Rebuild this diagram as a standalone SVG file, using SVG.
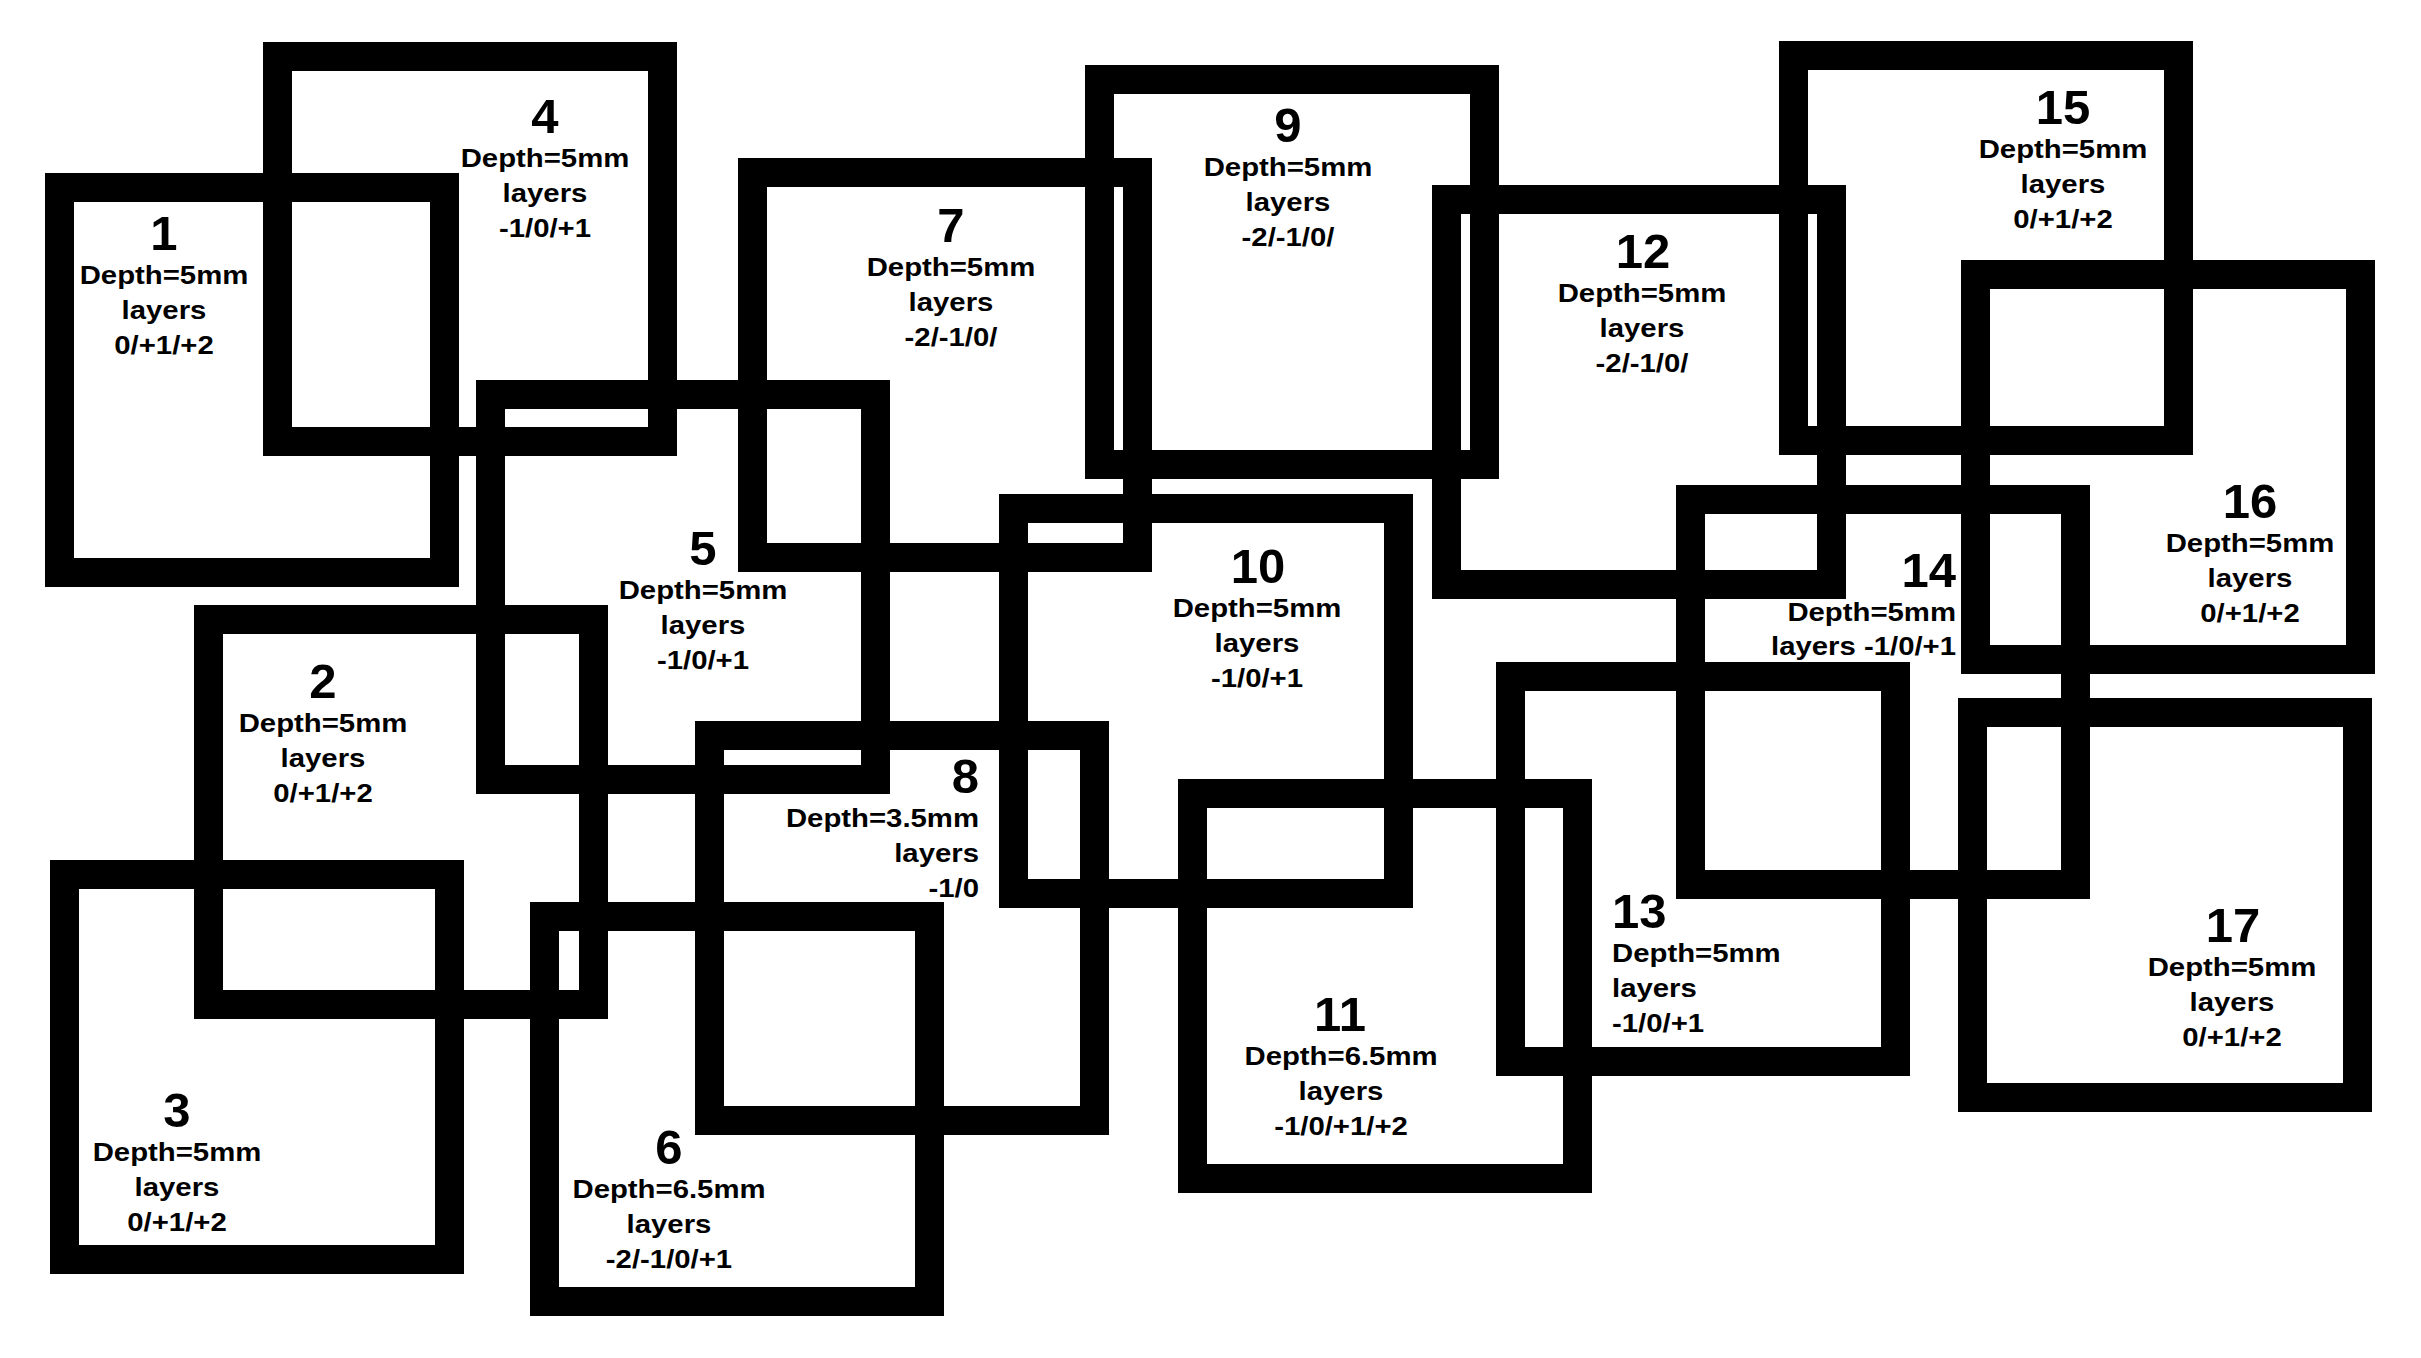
<svg xmlns="http://www.w3.org/2000/svg" width="2421" height="1358" viewBox="0 0 2421 1358">
<style>
.box{fill:none;stroke:#000;stroke-width:29}
.num{font-family:"Liberation Sans",Arial,Helvetica,sans-serif;font-weight:bold;font-size:49px;fill:#000}
.lbl{font-family:"Liberation Sans",Arial,Helvetica,sans-serif;font-weight:bold;font-size:25.5px;fill:#000}
.c{text-anchor:middle}
.e{text-anchor:end}
.s{text-anchor:start}
</style>
<rect width="2421" height="1358" fill="#fff"/>
<g id="connectors"/>
<g id="n1">
<rect class="box" x="59.5" y="187.5" width="385" height="385"/>
<text class="num c" x="164" y="250">1</text>
<g transform="translate(164,250) scale(1.15,1)"><text class="lbl c" y="34.5">Depth=5mm</text><text class="lbl c" y="69.5">layers</text><text class="lbl c" y="104">0/+1/+2</text></g>
</g>
<g id="n2">
<rect class="box" x="208.5" y="619.5" width="385" height="385"/>
<text class="num c" x="323" y="698">2</text>
<g transform="translate(323,698) scale(1.15,1)"><text class="lbl c" y="34.5">Depth=5mm</text><text class="lbl c" y="69.5">layers</text><text class="lbl c" y="104">0/+1/+2</text></g>
</g>
<g id="n3">
<rect class="box" x="64.5" y="874.5" width="385" height="385"/>
<text class="num c" x="177" y="1127">3</text>
<g transform="translate(177,1127) scale(1.15,1)"><text class="lbl c" y="34.5">Depth=5mm</text><text class="lbl c" y="69.5">layers</text><text class="lbl c" y="104">0/+1/+2</text></g>
</g>
<g id="n4">
<rect class="box" x="277.5" y="56.5" width="385" height="385"/>
<text class="num c" x="545" y="133">4</text>
<g transform="translate(545,133) scale(1.15,1)"><text class="lbl c" y="34.5">Depth=5mm</text><text class="lbl c" y="69.5">layers</text><text class="lbl c" y="104">-1/0/+1</text></g>
</g>
<g id="n5">
<rect class="box" x="490.5" y="394.5" width="385" height="385"/>
<text class="num c" x="703" y="565">5</text>
<g transform="translate(703,565) scale(1.15,1)"><text class="lbl c" y="34.5">Depth=5mm</text><text class="lbl c" y="69.5">layers</text><text class="lbl c" y="104">-1/0/+1</text></g>
</g>
<g id="n6">
<rect class="box" x="544.5" y="916.5" width="385" height="385"/>
<text class="num c" x="669" y="1164">6</text>
<g transform="translate(669,1164) scale(1.15,1)"><text class="lbl c" y="34.5">Depth=6.5mm</text><text class="lbl c" y="69.5">layers</text><text class="lbl c" y="104">-2/-1/0/+1</text></g>
</g>
<g id="n7">
<rect class="box" x="752.5" y="172.5" width="385" height="385"/>
<text class="num c" x="951" y="242">7</text>
<g transform="translate(951,242) scale(1.15,1)"><text class="lbl c" y="34.5">Depth=5mm</text><text class="lbl c" y="69.5">layers</text><text class="lbl c" y="104">-2/-1/0/</text></g>
</g>
<g id="n8">
<rect class="box" x="709.5" y="735.5" width="385" height="385"/>
<text class="num e" x="979" y="793">8</text>
<g transform="translate(979,793) scale(1.15,1)"><text class="lbl e" y="34.5">Depth=3.5mm</text><text class="lbl e" y="69.5">layers</text><text class="lbl e" y="104">-1/0</text></g>
</g>
<g id="n9">
<rect class="box" x="1099.5" y="79.5" width="385" height="385"/>
<text class="num c" x="1288" y="142">9</text>
<g transform="translate(1288,142) scale(1.15,1)"><text class="lbl c" y="34.5">Depth=5mm</text><text class="lbl c" y="69.5">layers</text><text class="lbl c" y="104">-2/-1/0/</text></g>
</g>
<g id="n10">
<rect class="box" x="1013.5" y="508.5" width="385" height="385"/>
<text class="num c" x="1258" y="583">10</text>
<g transform="translate(1257,583) scale(1.15,1)"><text class="lbl c" y="34.5">Depth=5mm</text><text class="lbl c" y="69.5">layers</text><text class="lbl c" y="104">-1/0/+1</text></g>
</g>
<g id="n11">
<rect class="box" x="1192.5" y="793.5" width="385" height="385"/>
<text class="num c" x="1340" y="1031">11</text>
<g transform="translate(1341,1031) scale(1.15,1)"><text class="lbl c" y="34.5">Depth=6.5mm</text><text class="lbl c" y="69.5">layers</text><text class="lbl c" y="104">-1/0/+1/+2</text></g>
</g>
<g id="n12">
<rect class="box" x="1446.5" y="199.5" width="385" height="385"/>
<text class="num c" x="1643" y="268">12</text>
<g transform="translate(1642,268) scale(1.15,1)"><text class="lbl c" y="34.5">Depth=5mm</text><text class="lbl c" y="69.5">layers</text><text class="lbl c" y="104">-2/-1/0/</text></g>
</g>
<g id="n13">
<rect class="box" x="1510.5" y="676.5" width="385" height="385"/>
<text class="num s" x="1612" y="928">13</text>
<g transform="translate(1612,928) scale(1.15,1)"><text class="lbl s" y="34">Depth=5mm</text><text class="lbl s" y="69">layers</text><text class="lbl s" y="104">-1/0/+1</text></g>
</g>
<g id="n14">
<rect class="box" x="1690.5" y="499.5" width="385" height="385"/>
<text class="num e" x="1956" y="587">14</text>
<g transform="translate(1956,587) scale(1.15,1)"><text class="lbl e" y="34">Depth=5mm</text><text class="lbl e" y="68">layers -1/0/+1</text></g>
</g>
<g id="n15">
<rect class="box" x="1793.5" y="55.5" width="385" height="385"/>
<text class="num c" x="2063" y="124">15</text>
<g transform="translate(2063,124) scale(1.15,1)"><text class="lbl c" y="34.5">Depth=5mm</text><text class="lbl c" y="69.5">layers</text><text class="lbl c" y="104">0/+1/+2</text></g>
</g>
<g id="n16">
<rect class="box" x="1975.5" y="274.5" width="385" height="385"/>
<text class="num c" x="2250" y="518">16</text>
<g transform="translate(2250,518) scale(1.15,1)"><text class="lbl c" y="34.5">Depth=5mm</text><text class="lbl c" y="69.5">layers</text><text class="lbl c" y="104">0/+1/+2</text></g>
</g>
<g id="n17">
<rect class="box" x="1972.5" y="712.5" width="385" height="385"/>
<text class="num c" x="2233" y="942">17</text>
<g transform="translate(2232,942) scale(1.15,1)"><text class="lbl c" y="34.5">Depth=5mm</text><text class="lbl c" y="69.5">layers</text><text class="lbl c" y="104">0/+1/+2</text></g>
</g>
</svg>
